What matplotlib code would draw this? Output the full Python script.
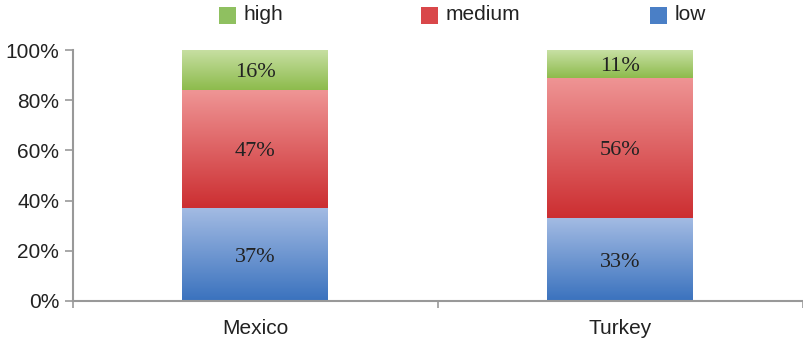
import matplotlib
matplotlib.use("Agg")
import matplotlib.pyplot as plt
import numpy as np
from matplotlib.colors import LinearSegmentedColormap
from matplotlib.patches import Rectangle

categories = ["Mexico", "Turkey"]
series_names = ["low", "medium", "high"]
low = [37, 33]
medium = [47, 56]
high = [16, 11]
yticklabels = ["0%", "20%", "40%", "60%", "80%", "100%"]

grad = {
    "low": ("#a3bbe3", "#3a72be"),
    "medium": ("#ef9595", "#cc2e31"),
    "high": ("#c8e0a4", "#8dbb4c"),
}
legend_color = {"low": "#4a7fc6", "medium": "#d9474a", "high": "#8fc060"}

fig = plt.figure(figsize=(8.04, 3.40), dpi=100)
ax = fig.add_axes([73/804, 39/340, 730/804, 251/340])

x = np.arange(len(categories))
width = 0.4
bottom = np.zeros(len(categories))
grey = "#999999"
for name, vals in zip(series_names, [low, medium, high]):
    vals = np.array(vals, dtype=float)
    bars = ax.bar(x, vals, width, bottom=bottom, facecolor="none", edgecolor="none", label=name)
    cmap = LinearSegmentedColormap.from_list(name, [grad[name][1], grad[name][0]])
    for b, v, bt in zip(bars, vals, bottom):
        x0, y0 = b.get_x(), b.get_y()
        w, h = b.get_width(), b.get_height()
        g = np.linspace(0, 1, 256).reshape(-1, 1)
        im = ax.imshow(g, cmap=cmap, origin="lower", aspect="auto",
                       extent=(x0, x0 + w, y0, y0 + h), zorder=2, interpolation="bicubic")
        im.set_clip_path(b)
        ax.text(x0 + w / 2, y0 + h / 2, f"{int(v)}%", ha="center", va="center_baseline",
                fontsize=16, family="Liberation Serif", color="#222222", zorder=3)
    bottom = bottom + vals

ax.set_xlim(-0.5, 1.5)
ax.set_ylim(0, 100)
ax.set_yticks([0, 20, 40, 60, 80, 100])
ax.set_yticklabels(yticklabels, fontsize=15, family="Liberation Sans", color="#222222")
ax.set_xticks(x)
ax.set_xticklabels(categories, fontsize=15, family="Liberation Sans", color="#222222")
ax.tick_params(axis="x", which="major", length=0, pad=13)
ax.set_xticks([-0.5, 0.5, 1.5], minor=True)
ax.tick_params(axis="x", which="minor", length=5, color=grey, width=1.2, direction="out")
ax.tick_params(axis="y", length=6, color=grey, width=1.2, direction="out", pad=4)
for s in ["top", "right"]:
    ax.spines[s].set_visible(False)
for s in ["left", "bottom"]:
    ax.spines[s].set_color(grey)
    ax.spines[s].set_linewidth(1.5)

# legend (order: high, medium, low)
leg_pos = {"high": 219, "medium": 421, "low": 650}
for name in ["high", "medium", "low"]:
    px = leg_pos[name]
    fig.patches.append(Rectangle((px / 804, (340 - 24) / 340), 17 / 804, 17 / 340,
                                 transform=fig.transFigure, facecolor=legend_color[name],
                                 edgecolor="none"))
    fig.text((px + 25) / 804, (340 - 15) / 340, name, fontsize=15,
             family="Liberation Sans", color="#222222", va="center", ha="left")

fig.savefig("out.png", dpi=100)
